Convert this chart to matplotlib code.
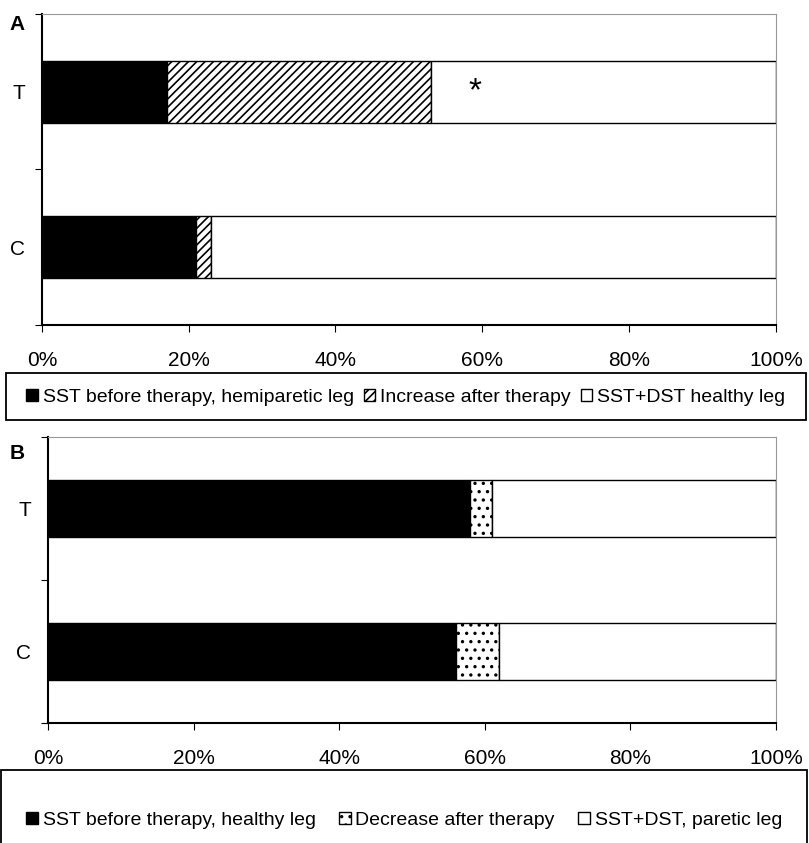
import matplotlib.pyplot as plt
from matplotlib.patches import Patch, Rectangle

# data (percent)
grupos = ['C', 'T']

a_antes = [21, 17]          # SST before therapy, hemiparetic leg
a_aumento = [2, 36]         # Increase after therapy
a_saudavel = [77, 47]       # SST+DST healthy leg
a_legenda = ['SST before therapy, hemiparetic leg', 'Increase after therapy', 'SST+DST healthy leg']

b_antes = [56, 58]          # SST before therapy, healthy leg
b_queda = [6, 3]            # Decrease after therapy
b_paretica = [38, 39]       # SST+DST, paretic leg
b_legenda = ['SST before therapy, healthy leg', 'Decrease after therapy', 'SST+DST, paretic leg']

plt.rcParams['font.family'] = ['Liberation Sans', 'DejaVu Sans']
plt.rcParams['hatch.linewidth'] = 1.2

fig = plt.figure(figsize=(8.09, 8.43), dpi=100)


def painel(ax, v1, v2, v3, hatch2):
    y = range(len(grupos))
    ax.barh(y, v1, height=0.4, color='black', edgecolor='black', linewidth=1)
    ax.barh(y, v2, left=v1, height=0.4, color='white', edgecolor='black', hatch=hatch2, linewidth=1)
    esq = [a + b for a, b in zip(v1, v2)]
    ax.barh(y, v3, left=esq, height=0.4, color='white', edgecolor='black', linewidth=1)
    ax.set_xlim(0, 100)
    ax.set_ylim(-0.5, 1.5)
    ax.set_xticks([0, 20, 40, 60, 80, 100])
    ax.set_xticklabels(['0%', '20%', '40%', '60%', '80%', '100%'], fontsize=15)
    ax.set_yticks([-0.5, 0.5, 1.5])
    ax.set_yticklabels([])
    ax.set_yticks([0, 1], minor=True)
    ax.set_yticklabels(grupos, minor=True, fontsize=15)
    ax.tick_params(axis='y', which='minor', length=0, pad=12)
    ax.tick_params(axis='y', which='major', length=5, direction='out')
    ax.tick_params(axis='x', length=5, direction='out', pad=14)
    ax.spines['top'].set_color('#999999')
    ax.spines['right'].set_color('#999999')
    ax.spines['left'].set_linewidth(1.5)
    ax.spines['bottom'].set_linewidth(1.5)


def legenda(handles, rotulos, x0, y0, w, h, yc, espaco):
    fig.patches.append(Rectangle((x0, y0), w, h, transform=fig.transFigure,
                                 facecolor='none', edgecolor='black', linewidth=1.3))
    fig.legend(handles, rotulos, loc='center', bbox_to_anchor=(x0 + w / 2, yc),
               ncol=3, fontsize=14, frameon=False,
               handlelength=0.6, handleheight=0.6, handletextpad=0.25,
               columnspacing=espaco, borderpad=0)


# painel A
ax1 = fig.add_axes([0.0519, 0.6145, 0.907, 0.369])
painel(ax1, a_antes, a_aumento, a_saudavel, '////')
ax1.text(59, 1, '*', fontsize=24, ha='center', va='center')
fig.text(0.012, 0.965, 'A', fontsize=15, fontweight='bold')

h1 = [Patch(facecolor='black', edgecolor='black'),
      Patch(facecolor='white', edgecolor='black', hatch='////'),
      Patch(facecolor='white', edgecolor='black')]
legenda(h1, a_legenda, 0.0074, 0.5018, 0.9886, 0.0557, 0.529, 0.5)

# painel B
ax2 = fig.add_axes([0.0593, 0.1423, 0.900, 0.3393])
painel(ax2, b_antes, b_queda, b_paretica, '..')
fig.text(0.012, 0.455, 'B', fontsize=15, fontweight='bold')

h2 = [Patch(facecolor='black', edgecolor='black'),
      Patch(facecolor='white', edgecolor='black', hatch='..'),
      Patch(facecolor='white', edgecolor='black')]
legenda(h2, b_legenda, 0.001, -0.01, 0.997, 0.0966, 0.027, 1.2)

fig.savefig('out.png', dpi=100)
